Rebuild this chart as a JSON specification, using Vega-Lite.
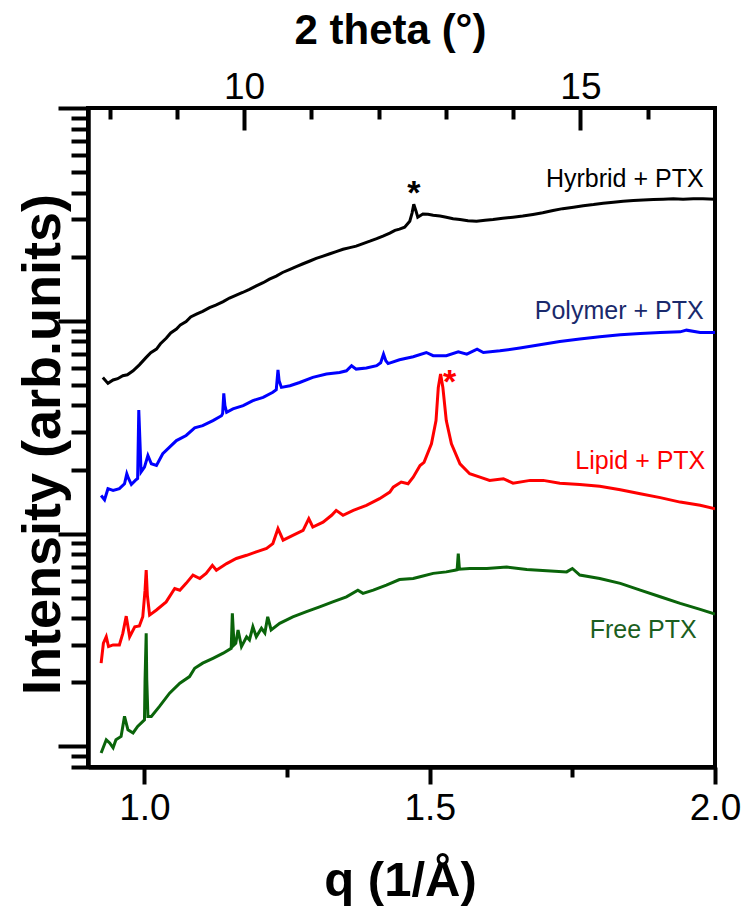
{
  "$schema": "https://vega.github.io/schema/vega-lite/v6.json",
  "width": 627,
  "height": 659,
  "autosize": {"type": "none"},
  "padding": {"left": 88, "top": 108, "right": 35, "bottom": 146},
  "background": "white",
  "config": {
    "view": {"stroke": "black", "strokeWidth": 4},
    "font": "Liberation Sans",
    "axis": {
      "domainColor": "black", "domainWidth": 4, "tickColor": "black", "tickWidth": 4,
      "labelColor": "black", "titleColor": "black", "labelFont": "Liberation Sans", "titleFont": "Liberation Sans",
      "grid": false, "labelFlush": false, "labelOverlap": false, "labelBound": false
    }
  },
  "datasets": {
    "curves": [
      {"series":"Hybrid + PTX","q":0.927,"logI":1.734},{"series":"Hybrid + PTX","q":0.936,"logI":1.706},{"series":"Hybrid + PTX","q":0.945,"logI":1.722},{"series":"Hybrid + PTX","q":0.953,"logI":1.728},{"series":"Hybrid + PTX","q":0.962,"logI":1.742},{"series":"Hybrid + PTX","q":0.970,"logI":1.746},{"series":"Hybrid + PTX","q":0.980,"logI":1.765},{"series":"Hybrid + PTX","q":0.991,"logI":1.793},{"series":"Hybrid + PTX","q":1.003,"logI":1.828},{"series":"Hybrid + PTX","q":1.011,"logI":1.850},{"series":"Hybrid + PTX","q":1.021,"logI":1.867},{"series":"Hybrid + PTX","q":1.028,"logI":1.892},{"series":"Hybrid + PTX","q":1.038,"logI":1.918},{"series":"Hybrid + PTX","q":1.046,"logI":1.943},{"series":"Hybrid + PTX","q":1.056,"logI":1.961},{"series":"Hybrid + PTX","q":1.063,"logI":1.981},{"series":"Hybrid + PTX","q":1.073,"logI":1.996},{"series":"Hybrid + PTX","q":1.081,"logI":2.018},{"series":"Hybrid + PTX","q":1.091,"logI":2.031},{"series":"Hybrid + PTX","q":1.102,"logI":2.044},{"series":"Hybrid + PTX","q":1.114,"logI":2.062},{"series":"Hybrid + PTX","q":1.125,"logI":2.074},{"series":"Hybrid + PTX","q":1.138,"logI":2.090},{"series":"Hybrid + PTX","q":1.149,"logI":2.107},{"series":"Hybrid + PTX","q":1.161,"logI":2.121},{"series":"Hybrid + PTX","q":1.172,"logI":2.133},{"series":"Hybrid + PTX","q":1.184,"logI":2.148},{"series":"Hybrid + PTX","q":1.196,"logI":2.164},{"series":"Hybrid + PTX","q":1.208,"logI":2.179},{"series":"Hybrid + PTX","q":1.219,"logI":2.196},{"series":"Hybrid + PTX","q":1.231,"logI":2.210},{"series":"Hybrid + PTX","q":1.242,"logI":2.227},{"series":"Hybrid + PTX","q":1.255,"logI":2.242},{"series":"Hybrid + PTX","q":1.266,"logI":2.255},{"series":"Hybrid + PTX","q":1.278,"logI":2.268},{"series":"Hybrid + PTX","q":1.290,"logI":2.281},{"series":"Hybrid + PTX","q":1.301,"logI":2.293},{"series":"Hybrid + PTX","q":1.313,"logI":2.304},{"series":"Hybrid + PTX","q":1.325,"logI":2.315},{"series":"Hybrid + PTX","q":1.336,"logI":2.325},{"series":"Hybrid + PTX","q":1.348,"logI":2.336},{"series":"Hybrid + PTX","q":1.360,"logI":2.344},{"series":"Hybrid + PTX","q":1.371,"logI":2.351},{"series":"Hybrid + PTX","q":1.383,"logI":2.363},{"series":"Hybrid + PTX","q":1.395,"logI":2.374},{"series":"Hybrid + PTX","q":1.407,"logI":2.386},{"series":"Hybrid + PTX","q":1.418,"logI":2.398},{"series":"Hybrid + PTX","q":1.430,"logI":2.412},{"series":"Hybrid + PTX","q":1.439,"logI":2.425},{"series":"Hybrid + PTX","q":1.447,"logI":2.431},{"series":"Hybrid + PTX","q":1.456,"logI":2.440},{"series":"Hybrid + PTX","q":1.465,"logI":2.468},{"series":"Hybrid + PTX","q":1.469,"logI":2.506},{"series":"Hybrid + PTX","q":1.472,"logI":2.548},{"series":"Hybrid + PTX","q":1.476,"logI":2.515},{"series":"Hybrid + PTX","q":1.479,"logI":2.487},{"series":"Hybrid + PTX","q":1.488,"logI":2.502},{"series":"Hybrid + PTX","q":1.497,"logI":2.501},{"series":"Hybrid + PTX","q":1.506,"logI":2.496},{"series":"Hybrid + PTX","q":1.518,"logI":2.492},{"series":"Hybrid + PTX","q":1.529,"logI":2.487},{"series":"Hybrid + PTX","q":1.541,"logI":2.480},{"series":"Hybrid + PTX","q":1.553,"logI":2.476},{"series":"Hybrid + PTX","q":1.567,"logI":2.470},{"series":"Hybrid + PTX","q":1.582,"logI":2.468},{"series":"Hybrid + PTX","q":1.597,"logI":2.473},{"series":"Hybrid + PTX","q":1.611,"logI":2.476},{"series":"Hybrid + PTX","q":1.628,"logI":2.482},{"series":"Hybrid + PTX","q":1.646,"logI":2.487},{"series":"Hybrid + PTX","q":1.663,"logI":2.492},{"series":"Hybrid + PTX","q":1.681,"logI":2.500},{"series":"Hybrid + PTX","q":1.698,"logI":2.508},{"series":"Hybrid + PTX","q":1.716,"logI":2.518},{"series":"Hybrid + PTX","q":1.733,"logI":2.527},{"series":"Hybrid + PTX","q":1.752,"logI":2.534},{"series":"Hybrid + PTX","q":1.769,"logI":2.541},{"series":"Hybrid + PTX","q":1.787,"logI":2.546},{"series":"Hybrid + PTX","q":1.804,"logI":2.552},{"series":"Hybrid + PTX","q":1.822,"logI":2.557},{"series":"Hybrid + PTX","q":1.839,"logI":2.562},{"series":"Hybrid + PTX","q":1.857,"logI":2.565},{"series":"Hybrid + PTX","q":1.874,"logI":2.568},{"series":"Hybrid + PTX","q":1.892,"logI":2.570},{"series":"Hybrid + PTX","q":1.909,"logI":2.571},{"series":"Hybrid + PTX","q":1.927,"logI":2.573},{"series":"Hybrid + PTX","q":1.944,"logI":2.571},{"series":"Hybrid + PTX","q":1.962,"logI":2.573},{"series":"Hybrid + PTX","q":1.979,"logI":2.574},{"series":"Hybrid + PTX","q":2.0,"logI":2.571},

      {"series":"Polymer + PTX","q":0.924,"logI":1.179},{"series":"Polymer + PTX","q":0.930,"logI":1.159},{"series":"Polymer + PTX","q":0.936,"logI":1.211},{"series":"Polymer + PTX","q":0.945,"logI":1.203},{"series":"Polymer + PTX","q":0.956,"logI":1.211},{"series":"Polymer + PTX","q":0.965,"logI":1.234},{"series":"Polymer + PTX","q":0.969,"logI":1.281},{"series":"Polymer + PTX","q":0.972,"logI":1.259},{"series":"Polymer + PTX","q":0.977,"logI":1.231},{"series":"Polymer + PTX","q":0.984,"logI":1.250},{"series":"Polymer + PTX","q":0.988,"logI":1.259},{"series":"Polymer + PTX","q":0.990,"logI":1.581},{"series":"Polymer + PTX","q":0.992,"logI":1.437},{"series":"Polymer + PTX","q":0.994,"logI":1.289},{"series":"Polymer + PTX","q":1.000,"logI":1.312},{"series":"Polymer + PTX","q":1.006,"logI":1.367},{"series":"Polymer + PTX","q":1.012,"logI":1.328},{"series":"Polymer + PTX","q":1.021,"logI":1.320},{"series":"Polymer + PTX","q":1.032,"logI":1.375},{"series":"Polymer + PTX","q":1.044,"logI":1.406},{"series":"Polymer + PTX","q":1.056,"logI":1.437},{"series":"Polymer + PTX","q":1.073,"logI":1.461},{"series":"Polymer + PTX","q":1.088,"logI":1.497},{"series":"Polymer + PTX","q":1.102,"logI":1.507},{"series":"Polymer + PTX","q":1.120,"logI":1.531},{"series":"Polymer + PTX","q":1.135,"logI":1.554},{"series":"Polymer + PTX","q":1.137,"logI":1.564},{"series":"Polymer + PTX","q":1.139,"logI":1.659},{"series":"Polymer + PTX","q":1.141,"logI":1.601},{"series":"Polymer + PTX","q":1.144,"logI":1.570},{"series":"Polymer + PTX","q":1.155,"logI":1.586},{"series":"Polymer + PTX","q":1.173,"logI":1.601},{"series":"Polymer + PTX","q":1.190,"logI":1.625},{"series":"Polymer + PTX","q":1.208,"logI":1.640},{"series":"Polymer + PTX","q":1.225,"logI":1.664},{"series":"Polymer + PTX","q":1.231,"logI":1.676},{"series":"Polymer + PTX","q":1.234,"logI":1.769},{"series":"Polymer + PTX","q":1.236,"logI":1.718},{"series":"Polymer + PTX","q":1.240,"logI":1.687},{"series":"Polymer + PTX","q":1.255,"logI":1.695},{"series":"Polymer + PTX","q":1.272,"logI":1.710},{"series":"Polymer + PTX","q":1.295,"logI":1.734},{"series":"Polymer + PTX","q":1.319,"logI":1.750},{"series":"Polymer + PTX","q":1.342,"logI":1.757},{"series":"Polymer + PTX","q":1.354,"logI":1.765},{"series":"Polymer + PTX","q":1.363,"logI":1.789},{"series":"Polymer + PTX","q":1.371,"logI":1.773},{"series":"Polymer + PTX","q":1.389,"logI":1.778},{"series":"Polymer + PTX","q":1.407,"logI":1.789},{"series":"Polymer + PTX","q":1.414,"logI":1.803},{"series":"Polymer + PTX","q":1.419,"logI":1.843},{"series":"Polymer + PTX","q":1.423,"logI":1.812},{"series":"Polymer + PTX","q":1.427,"logI":1.799},{"series":"Polymer + PTX","q":1.447,"logI":1.817},{"series":"Polymer + PTX","q":1.471,"logI":1.831},{"series":"Polymer + PTX","q":1.494,"logI":1.851},{"series":"Polymer + PTX","q":1.506,"logI":1.836},{"series":"Polymer + PTX","q":1.529,"logI":1.836},{"series":"Polymer + PTX","q":1.550,"logI":1.854},{"series":"Polymer + PTX","q":1.565,"logI":1.843},{"series":"Polymer + PTX","q":1.583,"logI":1.867},{"series":"Polymer + PTX","q":1.594,"logI":1.851},{"series":"Polymer + PTX","q":1.623,"logI":1.859},{"series":"Polymer + PTX","q":1.658,"logI":1.872},{"series":"Polymer + PTX","q":1.693,"logI":1.887},{"series":"Polymer + PTX","q":1.728,"logI":1.903},{"series":"Polymer + PTX","q":1.763,"logI":1.914},{"series":"Polymer + PTX","q":1.798,"logI":1.925},{"series":"Polymer + PTX","q":1.834,"logI":1.934},{"series":"Polymer + PTX","q":1.869,"logI":1.940},{"series":"Polymer + PTX","q":1.904,"logI":1.945},{"series":"Polymer + PTX","q":1.939,"logI":1.948},{"series":"Polymer + PTX","q":1.950,"logI":1.956},{"series":"Polymer + PTX","q":1.974,"logI":1.945},{"series":"Polymer + PTX","q":2.0,"logI":1.945},

      {"series":"Lipid + PTX","q":0.924,"logI":0.391},{"series":"Lipid + PTX","q":0.928,"logI":0.485},{"series":"Lipid + PTX","q":0.933,"logI":0.515},{"series":"Lipid + PTX","q":0.937,"logI":0.469},{"series":"Lipid + PTX","q":0.945,"logI":0.477},{"series":"Lipid + PTX","q":0.956,"logI":0.477},{"series":"Lipid + PTX","q":0.962,"logI":0.531},{"series":"Lipid + PTX","q":0.968,"logI":0.612},{"series":"Lipid + PTX","q":0.974,"logI":0.515},{"series":"Lipid + PTX","q":0.983,"logI":0.562},{"series":"Lipid + PTX","q":0.991,"logI":0.566},{"series":"Lipid + PTX","q":0.997,"logI":0.609},{"series":"Lipid + PTX","q":1.001,"logI":0.734},{"series":"Lipid + PTX","q":1.003,"logI":0.828},{"series":"Lipid + PTX","q":1.005,"logI":0.711},{"series":"Lipid + PTX","q":1.009,"logI":0.617},{"series":"Lipid + PTX","q":1.021,"logI":0.641},{"series":"Lipid + PTX","q":1.038,"logI":0.679},{"series":"Lipid + PTX","q":1.053,"logI":0.742},{"series":"Lipid + PTX","q":1.062,"logI":0.734},{"series":"Lipid + PTX","q":1.073,"logI":0.766},{"series":"Lipid + PTX","q":1.085,"logI":0.805},{"series":"Lipid + PTX","q":1.097,"logI":0.789},{"series":"Lipid + PTX","q":1.108,"logI":0.813},{"series":"Lipid + PTX","q":1.119,"logI":0.851},{"series":"Lipid + PTX","q":1.126,"logI":0.828},{"series":"Lipid + PTX","q":1.144,"logI":0.859},{"series":"Lipid + PTX","q":1.161,"logI":0.883},{"series":"Lipid + PTX","q":1.179,"logI":0.898},{"series":"Lipid + PTX","q":1.196,"logI":0.914},{"series":"Lipid + PTX","q":1.214,"logI":0.930},{"series":"Lipid + PTX","q":1.225,"logI":0.953},{"series":"Lipid + PTX","q":1.234,"logI":1.023},{"series":"Lipid + PTX","q":1.243,"logI":0.969},{"series":"Lipid + PTX","q":1.260,"logI":0.992},{"series":"Lipid + PTX","q":1.278,"logI":1.015},{"series":"Lipid + PTX","q":1.288,"logI":1.070},{"series":"Lipid + PTX","q":1.295,"logI":1.031},{"series":"Lipid + PTX","q":1.313,"logI":1.054},{"series":"Lipid + PTX","q":1.328,"logI":1.086},{"series":"Lipid + PTX","q":1.336,"logI":1.109},{"series":"Lipid + PTX","q":1.348,"logI":1.086},{"series":"Lipid + PTX","q":1.366,"logI":1.109},{"series":"Lipid + PTX","q":1.389,"logI":1.133},{"series":"Lipid + PTX","q":1.412,"logI":1.164},{"series":"Lipid + PTX","q":1.430,"logI":1.195},{"series":"Lipid + PTX","q":1.436,"logI":1.218},{"series":"Lipid + PTX","q":1.450,"logI":1.242},{"series":"Lipid + PTX","q":1.462,"logI":1.234},{"series":"Lipid + PTX","q":1.471,"logI":1.265},{"series":"Lipid + PTX","q":1.483,"logI":1.320},{"series":"Lipid + PTX","q":1.490,"logI":1.335},{"series":"Lipid + PTX","q":1.503,"logI":1.422},{"series":"Lipid + PTX","q":1.511,"logI":1.531},{"series":"Lipid + PTX","q":1.515,"logI":1.687},{"series":"Lipid + PTX","q":1.519,"logI":1.750},{"series":"Lipid + PTX","q":1.523,"logI":1.687},{"series":"Lipid + PTX","q":1.529,"logI":1.531},{"series":"Lipid + PTX","q":1.538,"logI":1.422},{"series":"Lipid + PTX","q":1.553,"logI":1.328},{"series":"Lipid + PTX","q":1.570,"logI":1.281},{"series":"Lipid + PTX","q":1.588,"logI":1.265},{"series":"Lipid + PTX","q":1.605,"logI":1.250},{"series":"Lipid + PTX","q":1.629,"logI":1.258},{"series":"Lipid + PTX","q":1.646,"logI":1.237},{"series":"Lipid + PTX","q":1.676,"logI":1.250},{"series":"Lipid + PTX","q":1.699,"logI":1.250},{"series":"Lipid + PTX","q":1.728,"logI":1.237},{"series":"Lipid + PTX","q":1.763,"logI":1.231},{"series":"Lipid + PTX","q":1.798,"logI":1.222},{"series":"Lipid + PTX","q":1.834,"logI":1.206},{"series":"Lipid + PTX","q":1.869,"logI":1.187},{"series":"Lipid + PTX","q":1.904,"logI":1.169},{"series":"Lipid + PTX","q":1.939,"logI":1.148},{"series":"Lipid + PTX","q":1.974,"logI":1.133},{"series":"Lipid + PTX","q":2.0,"logI":1.117},

      {"series":"Free PTX","q":0.924,"logI":-0.031},{"series":"Free PTX","q":0.933,"logI":0.031},{"series":"Free PTX","q":0.939,"logI":0.016},{"series":"Free PTX","q":0.945,"logI":-0.007},{"series":"Free PTX","q":0.950,"logI":0.031},{"series":"Free PTX","q":0.959,"logI":0.047},{"series":"Free PTX","q":0.965,"logI":0.141},{"series":"Free PTX","q":0.971,"logI":0.078},{"series":"Free PTX","q":0.980,"logI":0.063},{"series":"Free PTX","q":0.988,"logI":0.094},{"series":"Free PTX","q":1.000,"logI":0.125},{"series":"Free PTX","q":1.001,"logI":0.313},{"series":"Free PTX","q":1.003,"logI":0.531},{"series":"Free PTX","q":1.004,"logI":0.313},{"series":"Free PTX","q":1.006,"logI":0.141},{"series":"Free PTX","q":1.012,"logI":0.141},{"series":"Free PTX","q":1.026,"logI":0.187},{"series":"Free PTX","q":1.044,"logI":0.250},{"series":"Free PTX","q":1.062,"logI":0.297},{"series":"Free PTX","q":1.079,"logI":0.328},{"series":"Free PTX","q":1.088,"logI":0.367},{"series":"Free PTX","q":1.102,"logI":0.391},{"series":"Free PTX","q":1.120,"logI":0.414},{"series":"Free PTX","q":1.138,"logI":0.438},{"series":"Free PTX","q":1.152,"logI":0.461},{"series":"Free PTX","q":1.154,"logI":0.625},{"series":"Free PTX","q":1.157,"logI":0.477},{"series":"Free PTX","q":1.160,"logI":0.485},{"series":"Free PTX","q":1.164,"logI":0.547},{"series":"Free PTX","q":1.170,"logI":0.469},{"series":"Free PTX","q":1.179,"logI":0.515},{"series":"Free PTX","q":1.184,"logI":0.500},{"series":"Free PTX","q":1.190,"logI":0.562},{"series":"Free PTX","q":1.196,"logI":0.515},{"series":"Free PTX","q":1.205,"logI":0.555},{"series":"Free PTX","q":1.211,"logI":0.533},{"series":"Free PTX","q":1.216,"logI":0.609},{"series":"Free PTX","q":1.222,"logI":0.547},{"series":"Free PTX","q":1.237,"logI":0.578},{"series":"Free PTX","q":1.260,"logI":0.609},{"series":"Free PTX","q":1.284,"logI":0.633},{"series":"Free PTX","q":1.307,"logI":0.656},{"series":"Free PTX","q":1.330,"logI":0.679},{"series":"Free PTX","q":1.354,"logI":0.703},{"series":"Free PTX","q":1.374,"logI":0.734},{"series":"Free PTX","q":1.383,"logI":0.719},{"series":"Free PTX","q":1.401,"logI":0.734},{"series":"Free PTX","q":1.424,"logI":0.758},{"series":"Free PTX","q":1.447,"logI":0.784},{"series":"Free PTX","q":1.471,"logI":0.789},{"series":"Free PTX","q":1.483,"logI":0.797},{"series":"Free PTX","q":1.506,"logI":0.813},{"series":"Free PTX","q":1.529,"logI":0.820},{"series":"Free PTX","q":1.544,"logI":0.828},{"series":"Free PTX","q":1.548,"logI":0.830},{"series":"Free PTX","q":1.550,"logI":0.906},{"series":"Free PTX","q":1.552,"logI":0.833},{"series":"Free PTX","q":1.570,"logI":0.836},{"series":"Free PTX","q":1.600,"logI":0.836},{"series":"Free PTX","q":1.635,"logI":0.843},{"series":"Free PTX","q":1.670,"logI":0.831},{"series":"Free PTX","q":1.705,"logI":0.825},{"series":"Free PTX","q":1.740,"logI":0.820},{"series":"Free PTX","q":1.750,"logI":0.836},{"series":"Free PTX","q":1.763,"logI":0.805},{"series":"Free PTX","q":1.798,"logI":0.789},{"series":"Free PTX","q":1.834,"logI":0.766},{"series":"Free PTX","q":1.869,"logI":0.734},{"series":"Free PTX","q":1.904,"logI":0.703},{"series":"Free PTX","q":1.939,"logI":0.672},{"series":"Free PTX","q":1.974,"logI":0.644},{"series":"Free PTX","q":2.0,"logI":0.622}
    ]
  },
  "layer": [
    {
      "layer": [
        {
          "data": {"name": "curves"},
          "mark": {"type": "line", "strokeWidth": 3, "clip": true},
          "encoding": {
            "x": {
              "field": "q", "type": "quantitative",
              "scale": {"domain": [0.901, 2.0], "nice": false, "zero": false},
              "axis": {
                "orient": "bottom", "title": "q (1/Å)",
                "values": [1, 1.5, 2], "format": ".1f",
                "labelFontSize": 37, "labelPadding": 6, "tickSize": 17,
                "titleFontSize": 49, "titleFontWeight": "bold",
                "titleX": 312, "titleY": 128, "titleAlign": "center", "titleBaseline": "alphabetic"
              }
            },
            "y": {
              "field": "logI", "type": "quantitative",
              "scale": {"domain": [-0.0969, 3.0], "nice": false, "zero": false},
              "axis": {
                "orient": "left", "title": "Intensity (arb.units)",
                "values": [0, 1, 2, 3],
                "labels": false, "tickSize": 30,
                "titleFontSize": 54, "titleFontWeight": "bold",
                "titleX": -29, "titleY": 336, "titleAngle": -90, "titleAlign": "center", "titleBaseline": "alphabetic"
              }
            },
            "color": {
              "field": "series", "type": "nominal",
              "scale": {"domain": ["Hybrid + PTX", "Polymer + PTX", "Lipid + PTX", "Free PTX"], "range": ["#000000", "#0000ff", "#ff0000", "#0a640a"]},
              "legend": null
            }
          }
        },
        {
          "data": {"values": [{"q": 1.98, "logI": 2.627, "label": "Hyrbrid + PTX"}]},
          "mark": {"type": "text", "align": "right", "baseline": "alphabetic", "fontSize": 25, "font": "Liberation Sans", "color": "#000000"},
          "encoding": {
            "x": {"field": "q", "type": "quantitative", "axis": {"orient": "bottom", "values": [1.25, 1.75], "labels": false, "tickSize": 10, "title": null}},
            "y": {"field": "logI", "type": "quantitative", "axis": {"orient": "left", "values": [-0.0969, -0.0458, 0.301, 0.4771, 0.6021, 0.699, 0.7782, 0.8451, 0.9031, 0.9542, 1.301, 1.4771, 1.6021, 1.699, 1.7782, 1.8451, 1.9031, 1.9542, 2.301, 2.4771, 2.6021, 2.699, 2.7782, 2.8451, 2.9031, 2.9542], "labels": false, "tickSize": 17, "title": null}},
            "text": {"field": "label"}
          }
        },
        {
          "data": {"values": [{"q": 1.98, "logI": 2.007, "label": "Polymer + PTX"}]},
          "mark": {"type": "text", "align": "right", "baseline": "alphabetic", "fontSize": 25, "font": "Liberation Sans", "color": "#1a2a6c"},
          "encoding": {"x": {"field": "q", "type": "quantitative", "axis": null}, "y": {"field": "logI", "type": "quantitative", "axis": null}, "text": {"field": "label"}}
        },
        {
          "data": {"values": [{"q": 1.983, "logI": 1.305, "label": "Lipid + PTX"}]},
          "mark": {"type": "text", "align": "right", "baseline": "alphabetic", "fontSize": 25, "font": "Liberation Sans", "color": "#ff0000"},
          "encoding": {"x": {"field": "q", "type": "quantitative", "axis": null}, "y": {"field": "logI", "type": "quantitative", "axis": null}, "text": {"field": "label"}}
        },
        {
          "data": {"values": [{"q": 1.968, "logI": 0.508, "label": "Free PTX"}]},
          "mark": {"type": "text", "align": "right", "baseline": "alphabetic", "fontSize": 25, "font": "Liberation Sans", "color": "#1b5e20"},
          "encoding": {"x": {"field": "q", "type": "quantitative", "axis": null}, "y": {"field": "logI", "type": "quantitative", "axis": null}, "text": {"field": "label"}}
        },
        {
          "data": {"values": [{"q": 1.472, "logI": 2.548, "label": "*"}]},
          "mark": {"type": "text", "align": "center", "baseline": "alphabetic", "fontSize": 34, "fontWeight": "bold", "font": "Liberation Sans", "color": "#000000"},
          "encoding": {"x": {"field": "q", "type": "quantitative", "axis": null}, "y": {"field": "logI", "type": "quantitative", "axis": null}, "text": {"field": "label"}}
        },
        {
          "data": {"values": [{"q": 1.535, "logI": 1.661, "label": "*"}]},
          "mark": {"type": "text", "align": "center", "baseline": "alphabetic", "fontSize": 34, "fontWeight": "bold", "font": "Liberation Sans", "color": "#ff0000"},
          "encoding": {"x": {"field": "q", "type": "quantitative", "axis": null}, "y": {"field": "logI", "type": "quantitative", "axis": null}, "text": {"field": "label"}}
        }
      ],
      "resolve": {"axis": {"x": "independent", "y": "independent"}}
    },
    {
      "layer": [
        {
          "data": {"values": [{"theta": 10}, {"theta": 15}]},
          "mark": {"type": "point", "opacity": 0},
          "encoding": {
            "x": {
              "field": "theta", "type": "quantitative",
              "scale": {"domain": [7.68, 17.0], "nice": false, "zero": false},
              "axis": {
                "orient": "top", "title": "2 theta (°)", "offset": -22, "domain": false,
                "values": [10, 15], "labelFontSize": 37, "tickSize": 22, "labelPadding": 2,
                "titleFontSize": 42, "titleFontWeight": "bold",
                "titleX": 302, "titleY": -87, "titleAlign": "center", "titleBaseline": "alphabetic"
              }
            }
          }
        },
        {
          "data": {"values": [{"theta": 10}, {"theta": 15}]},
          "mark": {"type": "point", "opacity": 0},
          "encoding": {
            "x": {
              "field": "theta", "type": "quantitative",
              "axis": {"orient": "top", "title": null, "offset": -11, "domain": false, "values": [8, 9, 11, 12, 13, 14, 16], "labels": false, "tickSize": 11}
            }
          }
        }
      ],
      "resolve": {"axis": {"x": "independent"}}
    }
  ],
  "resolve": {"scale": {"x": "independent"}, "axis": {"x": "independent"}}
}
